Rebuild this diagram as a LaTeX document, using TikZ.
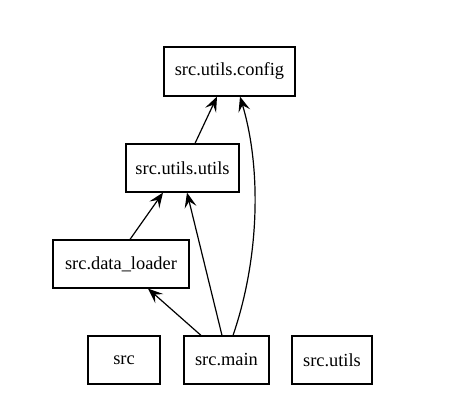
\documentclass[tikz,border=0pt]{standalone}
\usepackage{fontspec}
\setmainfont{Liberation Serif}
\newfontfamily\modfont{Liberation Serif}
\usetikzlibrary{arrows.meta}
\begin{document}
\begin{tikzpicture}[x=1pt,y=-1pt,
  mod/.style={draw, line width=1.2pt, rectangle, inner sep=0pt, font=\modfont\fontsize{18.4}{20}\selectfont},
  dep/.style={-{Stealth[length=15pt,width=12pt,inset=6pt]}, line width=1.2pt}]
\useasboundingbox (0,0) rectangle (475,420);
\node[mod, minimum width=131pt, minimum height=49pt] (cfg) at (229.5,71.5) {src.utils.config};
\node[mod, minimum width=113pt, minimum height=48pt] (uu) at (182.5,168) {src.utils.utils};
\node[mod, minimum width=136pt, minimum height=48pt] (dl) at (121,264) {src.data\_loader};
\node[mod, minimum width=72pt, minimum height=48pt] (src) at (124,360) {src};
\node[mod, minimum width=85pt, minimum height=48pt] (main) at (226.5,360) {src.main};
\node[mod, minimum width=80pt, minimum height=48pt] (su) at (332,360) {src.utils};
\draw[dep] (uu.north -| 195,0) -- (cfg.south -| 217,0);
\draw[dep] (main.north -| 233,0) .. controls (259,260) and (262,170) .. (cfg.south -| 240,0);
\draw[dep] (main.north -| 222,0) -- (uu.south -| 187,0);
\draw[dep] (main.north -| 201,0) -- (dl.south -| 148,0);
\draw[dep] (dl.north -| 130,0) -- (uu.south -| 163,0);
\end{tikzpicture}
\end{document}
